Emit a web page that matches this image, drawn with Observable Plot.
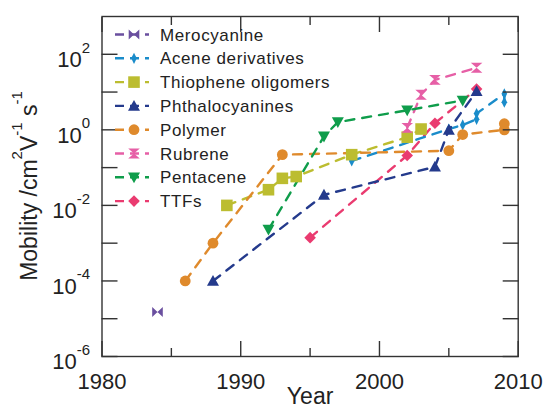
<!DOCTYPE html>
<html><head><meta charset="utf-8">
<script src="https://cdn.jsdelivr.net/npm/d3@7"></script>
<script src="https://cdn.jsdelivr.net/npm/@observablehq/plot@0.6"></script>
<style>
html,body{margin:0;padding:0;background:#fff;}
#chart{width:546px;height:413px;}
svg{font-family:"Liberation Sans",Arial,Helvetica,sans-serif;}
</style></head><body><div id="chart"></div>
<script>
// ---- data ----
const seriesNames = ["Merocyanine","Acene derivatives","Thiophene oligomers","Phthalocyanines","Polymer","Rubrene","Pentacene","TTFs"];
const seriesColors = ["#6a4f9f","#1a8cca","#bcbd30","#243a8c","#df8a2c","#e65fa6","#0f9d4b","#ea3b70"];
const merocyanine = [[1984, 1.5e-5]];
const aceneDerivatives = [[1998, 0.15],[2005, 1.05],[2006, 1.35],[2007, 1.9],[2007, 2.7],[2009, 9],[2009, 5.4]];
const thiopheneOligomers = [[1989, 0.01],[1992, 0.026],[1993, 0.052],[1994, 0.058],[1998, 0.22],[2002, 0.64],[2003, 1.05]];
const phthalocyanines = [[1988, 1e-4],[1996, 0.019],[2004, 0.105],[2005, 1.0],[2007, 10.5]];
const polymer = [[1986, 1e-4],[1988, 1e-3],[1993, 0.22],[2005, 0.28],[2006, 0.75],[2009, 1.0],[2009, 1.45]];
const rubrene = [[2002, 1.13],[2003, 8.5],[2004, 21],[2007, 44]];
const pentacene = [[1992, 0.0023],[1996, 0.67],[1997, 1.6],[2002, 3.3],[2006, 6]];
const ttfs = [[1995, 0.0014],[2002, 0.21],[2004, 1.5],[2007, 12]];
const xTicks = [1980, 1990, 2000, 2010];
const xMinorTicks = [1985, 1995, 2005];
const yTickMarks = [1e-6,1e-5,1e-4,1e-3,1e-2,1e-1,1,1e1,1e2];
const yTickLabels = [1e-6,1e-4,1e-2,1,1e2];

// ---- symbols ----
const sym = (fn) => ({draw(ctx, size){ const r = Math.sqrt(size/Math.PI); fn(ctx, r); }});
const symbols = {
  bowtie: sym((c,r)=>{c.moveTo(-r,-r*0.95);c.lineTo(r,r*0.95);c.lineTo(r,-r*0.95);c.lineTo(-r,r*0.95);c.closePath();}),
  thinDiamond: sym((c,r)=>{c.moveTo(0,-r);c.lineTo(r*0.5,0);c.lineTo(0,r);c.lineTo(-r*0.5,0);c.closePath();}),
  square: sym((c,r)=>{c.rect(-r,-r,2*r,2*r);}),
  triUp: sym((c,r)=>{c.moveTo(0,-r);c.lineTo(r,r*0.8);c.lineTo(-r,r*0.8);c.closePath();}),
  circle: sym((c,r)=>{c.moveTo(r,0);c.arc(0,0,r,0,2*Math.PI);c.closePath();}),
  hourglass: sym((c,r)=>{c.moveTo(-r,-r*0.85);c.lineTo(r,-r*0.85);c.lineTo(-r,r*0.85);c.lineTo(r,r*0.85);c.closePath();}),
  triDown: sym((c,r)=>{c.moveTo(0,r);c.lineTo(r,-r*0.8);c.lineTo(-r,-r*0.8);c.closePath();}),
  diamond: sym((c,r)=>{c.moveTo(0,-r);c.lineTo(r,0);c.lineTo(0,r);c.lineTo(-r,0);c.closePath();})
};
const seriesData = [merocyanine, aceneDerivatives, thiopheneOligomers, phthalocyanines, polymer, rubrene, pentacene, ttfs];
const seriesSymbols = [symbols.bowtie, symbols.thinDiamond, symbols.square, symbols.triUp, symbols.circle, symbols.hourglass, symbols.triDown, symbols.diamond];
const seriesR = [5.3, 5.6, 5.8, 6, 5.4, 5.8, 6, 5.8];
const drawOrder = [7, 0, 1, 2, 3, 4, 5, 6];

const marks = [];
for (const i of drawOrder) {
  const rows = seriesData[i].map(([year, mobility]) => ({year, mobility}));
  marks.push(Plot.line(rows, {x: "year", y: "mobility", stroke: seriesColors[i], strokeWidth: 2.4, strokeDasharray: "9,8"}));
}
for (const i of drawOrder) {
  const rows = seriesData[i].map(([year, mobility]) => ({year, mobility}));
  marks.push(Plot.dot(rows, {x: "year", y: "mobility", symbol: seriesSymbols[i], r: seriesR[i], fill: seriesColors[i], stroke: "none"}));
}
const axisColor = "#333";
const tickOpts = {tickFormat: () => "", stroke: axisColor, strokeWidth: 1.4, label: null};
marks.push(
  Plot.frame({stroke: axisColor, strokeWidth: 1.4}),
  Plot.axisX({anchor: "bottom", ticks: xTicks, tickSize: -15, ...tickOpts}),
  Plot.axisX({anchor: "bottom", ticks: xMinorTicks, tickSize: -8, ...tickOpts}),
  Plot.axisX({anchor: "top", ticks: xTicks, tickSize: -15, ...tickOpts}),
  Plot.axisX({anchor: "top", ticks: xMinorTicks, tickSize: -8, ...tickOpts}),
  Plot.axisY({anchor: "left", ticks: yTickMarks, tickSize: -16, ...tickOpts}),
  Plot.axisY({anchor: "right", ticks: yTickMarks, tickSize: -16, ...tickOpts}),
  Plot.axisX({anchor: "bottom", ticks: xTicks, tickSize: 0, tickPadding: 16.5, fontSize: 22, fill: "#222", label: null, tickFormat: d => String(d)}),
  Plot.axisY({anchor: "left", ticks: yTickLabels, tickSize: 0, tickPadding: 12, fontSize: 22, fill: "#222", label: null, tickFormat: d => "10^" + Math.round(Math.log10(d))}),
  Plot.text(["Year"], {frameAnchor: "bottom", dy: 47.5, fontSize: 23, fill: "#222", text: d => d})
);

const chart = Plot.plot({
  width: 546, height: 413,
  marginLeft: 101.5, marginRight: 28.3, marginTop: 16, marginBottom: 57,
  x: {domain: [1980, 2010], label: null},
  y: {type: "log", domain: [1e-6, 1e3], label: null},
  marks
});
document.getElementById("chart").appendChild(chart);
const svg = d3.select(chart);

// superscript tick labels
svg.selectAll('g[aria-label="y-axis tick label"] text').each(function(){
  const t = this.textContent;
  const m = t.match(/^10\^(-?\d+)$/);
  if (!m) return;
  const sel = d3.select(this);
  sel.text(null);
  sel.attr("y", 12.7).attr("dy", null);
  sel.append("tspan").text("10");
  sel.append("tspan").attr("dy", -14.3).attr("font-size", 15).text(m[1]);
});

// y-axis title
const yl = svg.append("text")
  .attr("transform", "translate(37.3,186) rotate(-90)")
  .attr("text-anchor", "middle").attr("font-size", 23).attr("fill", "#222");
yl.append("tspan").text("Mobility /cm");
yl.append("tspan").attr("font-size", 15).attr("dy", -15).text("2");
yl.append("tspan").attr("dy", 15).text("V");
yl.append("tspan").attr("font-size", 15).attr("dy", -15).text("-1");
yl.append("tspan").attr("dy", 15).text(" s");
yl.append("tspan").attr("font-size", 15).attr("dy", -15).text("-1");

// legend
const lg = svg.append("g");
seriesNames.forEach((name, i) => {
  const y = 34.5 + 23.8 * i;
  lg.append("line").attr("x1", 115).attr("x2", 149).attr("y1", y).attr("y2", y)
    .attr("stroke", seriesColors[i]).attr("stroke-width", 2.4).attr("stroke-dasharray", "9,6");
  lg.append("path").attr("transform", `translate(134,${y})`)
    .attr("d", d3.symbol(seriesSymbols[i], Math.PI * seriesR[i] * seriesR[i])())
    .attr("fill", seriesColors[i]);
  lg.append("text").attr("x", 160).attr("y", y).attr("dy", "0.36em").attr("text-anchor", "start")
    .attr("font-size", 17).attr("letter-spacing", 0.6).attr("fill", "#222").text(name);
});
</script></body></html>
